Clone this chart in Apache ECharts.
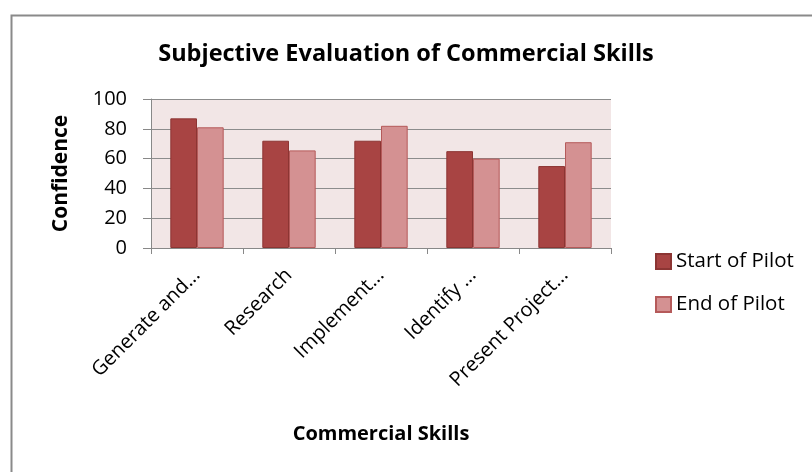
<!DOCTYPE html>
<html><head><meta charset="utf-8">
<script src="https://cdn.jsdelivr.net/npm/echarts@6/dist/echarts.min.js"></script>
<style>html,body{margin:0;padding:0;background:#fff}#c{width:812px;height:472px}</style>
</head><body><div id="c"></div>
<script>
const categories = ['Generate and...', 'Research', 'Implement...', 'Identify ...', 'Present Project...'];
const startOfPilot = [87, 72, 72, 65, 55];
const endOfPilot = [81, 65.5, 82, 60, 71];
const yTicks = [0, 20, 40, 60, 80, 100];

const FONT = 'Open Sans';
const chart = echarts.init(document.getElementById('c'));
chart.setOption({
  animation: false,
  textStyle: { fontFamily: FONT },
  graphic: [{
    type: 'rect', left: 9, top: 13, shape: { width: 900, height: 600 },
    style: { fill: 'none', stroke: '#8a8a8a', lineWidth: 2 }, z: -1
  }],
  title: {
    text: 'Subjective Evaluation of Commercial Skills',
    left: 'center', top: 37,
    textStyle: { fontFamily: FONT, fontSize: 23.5, fontWeight: 'bold', color: '#000' }
  },
  legend: {
    orient: 'vertical', left: 650, top: 246, itemGap: 22,
    itemWidth: 15, itemHeight: 15, icon: 'rect',
    textStyle: { fontFamily: FONT, fontSize: 20.5, lineHeight: 21, color: '#000' },
    data: ['Start of Pilot', 'End of Pilot']
  },
  grid: { left: 151, top: 99, width: 460, height: 149, containLabel: false, show: true, backgroundColor: '#f2e6e6', borderWidth: 0 },
  xAxis: {
    type: 'category', data: categories,
    name: 'Commercial Skills', nameLocation: 'middle', nameGap: 176,
    nameTextStyle: { fontFamily: FONT, fontSize: 20, fontWeight: 'bold', color: '#000' },
    axisLine: { lineStyle: { color: '#888', width: 1 } },
    axisTick: { show: true, length: 6, lineStyle: { color: '#888' } },
    axisLabel: { rotate: 45, fontSize: 20, color: '#000', margin: 24, fontFamily: FONT }
  },
  yAxis: {
    type: 'value', min: 0, max: 100, interval: 20,
    name: 'Confidence', nameLocation: 'middle', nameGap: 79,
    nameTextStyle: { fontFamily: FONT, fontSize: 21, fontWeight: 'bold', color: '#000' },
    axisLine: { show: true, lineStyle: { color: '#888' } },
    axisTick: { show: true, length: 8, lineStyle: { color: '#888' } },
    splitLine: { lineStyle: { color: '#8c8c8c', width: 1 } },
    axisLabel: { fontSize: 20, color: '#000', margin: 24, fontFamily: FONT,
      formatter: v => yTicks.includes(v) ? String(v) : '' }
  },
  series: [
    { name: 'Start of Pilot', type: 'bar', data: startOfPilot, barGap: '0%', barCategoryGap: '42%',
      itemStyle: { color: '#a84443', borderColor: '#8c3533', borderWidth: 1 } },
    { name: 'End of Pilot', type: 'bar', data: endOfPilot,
      itemStyle: { color: '#d49192', borderColor: '#b55a5a', borderWidth: 1 } }
  ]
});
</script></body></html>
